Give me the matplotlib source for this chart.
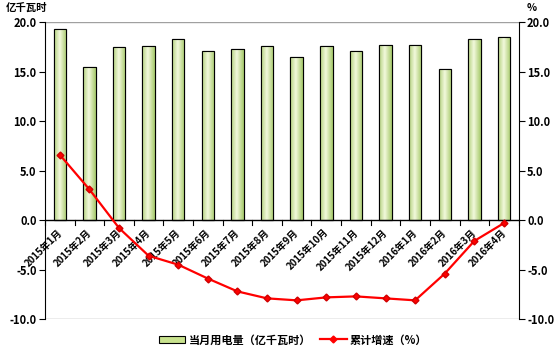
import numpy as np
import matplotlib
matplotlib.use('Agg')
import matplotlib.pyplot as plt
from matplotlib.lines import Line2D
from matplotlib.patches import Patch

plt.rcParams['font.family'] = ['Noto Sans CJK SC', 'DejaVu Sans']
plt.rcParams['font.weight'] = 'bold'

months = ['2015年1月', '2015年2月', '2015年3月', '2015年4月', '2015年5月', '2015年6月',
          '2015年7月', '2015年8月', '2015年9月', '2015年10月', '2015年11月', '2015年12月',
          '2016年1月', '2016年2月', '2016年3月', '2016年4月']
power = [19.3, 15.5, 17.5, 17.6, 18.3, 17.1, 17.3, 17.6, 16.5, 17.6, 17.1, 17.7,
         17.7, 15.3, 18.3, 18.5]
growth = [6.6, 3.1, -0.8, -3.6, -4.5, -5.9, -7.2, -7.9, -8.1, -7.8, -7.7, -7.9,
          -8.1, -5.4, -2.1, -0.3]

fig = plt.figure(figsize=(5.56, 3.57), dpi=100)
ax = fig.add_axes([0.081, 0.106, 0.852, 0.832])
x = np.arange(len(months))

bars = ax.bar(x, power, width=0.42, color='#c8e28e', edgecolor='black', linewidth=0.8, zorder=2)

# horizontal gradient inside each bar
grad = np.linspace(0, 1, 64)
shade = 1 - np.abs(grad - 0.45) * 1.6
cmap = matplotlib.colors.LinearSegmentedColormap.from_list('g', ['#9bc25a', '#f2f9dc'])
for b in bars:
    bx, by = b.get_x(), b.get_y()
    im = ax.imshow(shade[np.newaxis, :], cmap=cmap, aspect='auto', vmin=0, vmax=1,
                   extent=(bx, bx + b.get_width(), by, by + b.get_height()), zorder=2.1)
    im.set_clip_path(b)
    ax.add_patch(plt.Rectangle((bx, by), b.get_width(), b.get_height(),
                               fill=False, edgecolor='black', linewidth=0.8, zorder=2.2))

ax.set_xlim(-0.5, len(months) - 0.5)
ax.set_ylim(-10, 20)
ax.set_yticks([-10, -5, 0, 5, 10, 15, 20])
ax.set_yticklabels(['-10.0', '-5.0', '0.0', '5.0', '10.0', '15.0', '20.0'], fontsize=8, fontweight='bold')
ax.axhline(20, color='#a0a0a0', linewidth=1, zorder=1)
ax.axhline(-10, color='#a0a0a0', linewidth=1, zorder=1)
ax.axhline(0, color='black', linewidth=1, zorder=3)
for s in ['top', 'bottom']:
    ax.spines[s].set_visible(False)
ax.spines['right'].set_visible(False)
ax.tick_params(axis='y', direction='out', length=4, width=0.8, pad=2)
ax.set_xticks([])

# category ticks along zero line
for i in range(len(months) + 1):
    ax.plot([i - 0.5, i - 0.5], [0, -0.45], color='black', linewidth=0.8, zorder=3, clip_on=False)
for i, m in enumerate(months):
    ax.text(i - 0.1, -0.7, m, rotation=45, ha='right', va='top', rotation_mode='anchor',
            fontsize=7, fontweight='bold', zorder=4)

ax2 = ax.twinx()
ax2.plot(x, growth, color='#ff0000', linewidth=1.6, marker='D', markersize=3.5,
         markerfacecolor='#ff0000', markeredgecolor='#d00000', zorder=5)
ax2.set_ylim(-10, 20)
ax2.set_yticks([-10, -5, 0, 5, 10, 15, 20])
ax2.set_yticklabels(['-10.0', '-5.0', '0.0', '5.0', '10.0', '15.0', '20.0'], fontsize=8, fontweight='bold')
for s in ['top', 'bottom', 'left']:
    ax2.spines[s].set_visible(False)
ax2.tick_params(axis='y', direction='out', length=4, width=0.8, pad=2)

fig.text(0.01, 0.978, '亿千瓦时', fontsize=7.5, fontweight='bold', va='center', ha='left')
fig.text(0.948, 0.978, '%', fontsize=7.5, fontweight='bold', va='center', ha='left')

handles = [Patch(facecolor='#c8e28e', edgecolor='black', linewidth=0.8),
           Line2D([0], [0], color='#ff0000', linewidth=1.6, marker='D', markersize=3.5)]
fig.legend(handles, ['当月用电量（亿千瓦时）', '累计增速（%）'], loc='center',
           bbox_to_anchor=(0.527, 0.048), ncol=2, frameon=False, fontsize=8,
           handlelength=2.4, columnspacing=0.8, handletextpad=0.3)

fig.savefig('out.png', dpi=100)
